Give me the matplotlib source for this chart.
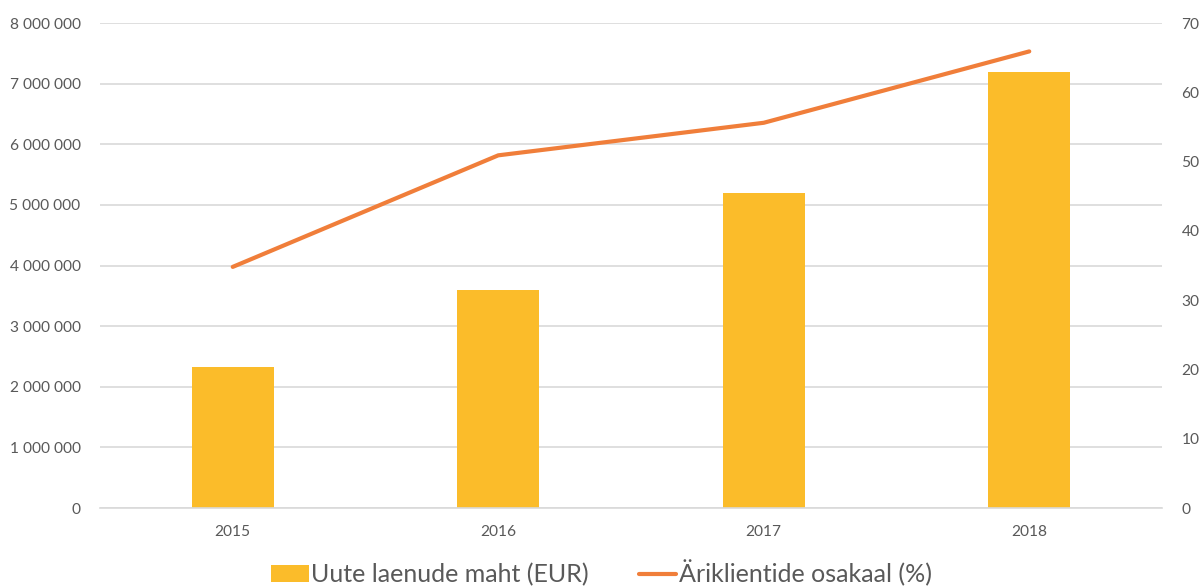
import numpy as np
import matplotlib.pyplot as plt
from matplotlib.ticker import FuncFormatter

years = ['2015', '2016', '2017', '2018']
laenud = [2320000, 3600000, 5200000, 7190000]
osakaal = [34.8, 50.9, 55.6, 65.9]

plt.rcParams['font.family'] = ['Lato', 'DejaVu Sans']

fig = plt.figure(figsize=(12.03, 5.86), dpi=100)
ax = fig.add_axes([100/1203, 1 - 508/586, 1062/1203, 485/586])
ax2 = ax.twinx()

x = np.arange(len(years))
b = ax.bar(x, laenud, width=0.31, color='#FBBC2A', zorder=2, label='Uute laenude maht (EUR)')
l, = ax2.plot(x, osakaal, color='#F07E3A', lw=3, solid_capstyle='round', label='Äriklientide osakaal (%)')

ax.set_xlim(-0.5, 3.5)
ax.set_ylim(0, 8000000)
ax.set_yticks(np.arange(0, 8000001, 1000000))
ax.yaxis.set_major_formatter(FuncFormatter(lambda v, p: f'{int(v):,}'.replace(',', ' ')))
ax2.set_ylim(0, 70)
ax2.set_yticks(np.arange(0, 71, 10))
ax.set_xticks(x)
ax.set_xticklabels(years)

ax.grid(axis='y', color='#D9D9D9', lw=1.2, zorder=0)
ax.set_axisbelow(True)
for a in (ax, ax2):
    for s in a.spines.values():
        s.set_visible(False)
    a.tick_params(length=0, colors='#595959', labelsize=11.2)
ax.spines['bottom'].set_visible(True)
ax.spines['bottom'].set_color('#D9D9D9')
ax.spines['bottom'].set_linewidth(1.2)
ax.tick_params(axis='y', pad=14)
ax.tick_params(axis='x', pad=12)
ax2.tick_params(axis='y', pad=14)

fig.legend([b, l], [b.get_label(), l.get_label()], loc='center', bbox_to_anchor=(0.5, 1 - 573/586),
           ncol=2, frameon=False, fontsize=18, labelcolor='#595959', handlelength=1.5,
           handleheight=0.7, handletextpad=0.1, columnspacing=2.0)

fig.savefig('out.png', dpi=100)
